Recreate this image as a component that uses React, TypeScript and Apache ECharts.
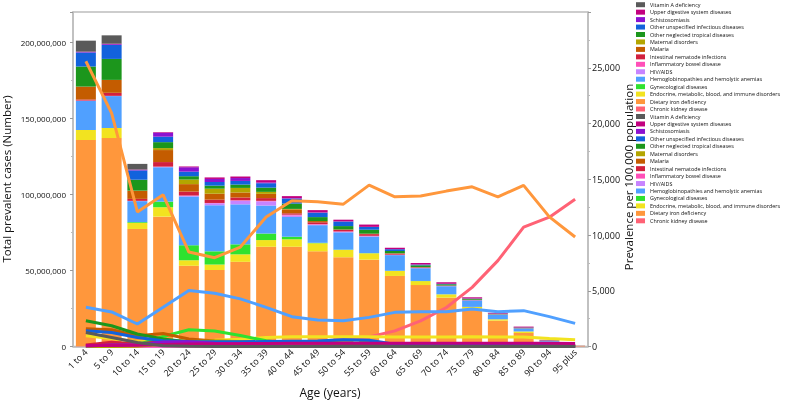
import React, { useEffect, useRef } from "react";
import * as echarts from "echarts";

const ageGroups = ["1 to 4", "5 to 9", "10 to 14", "15 to 19", "20 to 24", "25 to 29", "30 to 34", "35 to 39", "40 to 44", "45 to 49", "50 to 54", "55 to 59", "60 to 64", "65 to 69", "70 to 74", "75 to 79", "80 to 84", "85 to 89", "90 to 94", "95 plus"];

// Stack order, bottom to top
const causes = [
  "Chronic kidney disease",
  "Dietary iron deficiency",
  "Endocrine, metabolic, blood, and immune disorders",
  "Gynecological diseases",
  "Hemoglobinopathies and hemolytic anemias",
  "HIV/AIDS",
  "Inflammatory bowel disease",
  "Intestinal nematode infections",
  "Malaria",
  "Maternal disorders",
  "Other neglected tropical diseases",
  "Other unspecified infectious diseases",
  "Schistosomiasis",
  "Upper digestive system diseases",
  "Vitamin A deficiency",
];

const causeColors = ["#ff6275", "#ff973c", "#f2e320", "#2fe22f", "#50a0ff", "#c784ff", "#ff4fb8", "#d2203e", "#c45c00", "#b3a500", "#1c961c", "#1262dc", "#8c12d0", "#c2007f", "#5a5a5a"];

// Total prevalent cases (millions), per cause, per age group
const casesCKD = [0.2, 0.2, 0.2, 0.3, 0.4, 0.5, 0.6, 0.8, 1.0, 1.2, 1.4, 1.6, 1.8, 1.9, 1.8, 1.6, 1.3, 0.8, 0.4, 0.15];
const casesIron = [135.6, 136.9, 77.1, 85.1, 52.7, 49.8, 55.1, 64.8, 64.6, 61.4, 57.3, 55.5, 44.6, 38.5, 30.3, 23.2, 15.7, 8.1, 2.4, 0.35];
const casesEndocrine = [6.6, 6.6, 4.0, 6.2, 3.6, 3.6, 4.9, 4.4, 4.9, 5.3, 4.8, 4.2, 3.3, 2.6, 2.2, 1.2, 0.9, 1.0, 0.3, 0.05];
const casesGyn = [0, 0, 0.5, 3.7, 9.9, 8.7, 6.6, 4.3, 1.7, 0.3, 0.2, 0.1, 0.1, 0.1, 0.05, 0.05, 0, 0, 0, 0];
const casesHemo = [19.1, 21.0, 13.8, 22.6, 32.0, 30.3, 26.3, 18.4, 13.0, 11.6, 11.4, 10.9, 10.3, 8.4, 5.3, 4.3, 3.1, 2.0, 0.6, 0.1];
const casesHIV = [0.2, 0.1, 0.1, 0.3, 0.5, 1.3, 2.4, 2.8, 1.0, 0.4, 0.3, 0.2, 0.1, 0.05, 0.03, 0.02, 0.01, 0, 0, 0];
const casesIBD = [0.05, 0.05, 0.1, 0.1, 0.2, 0.2, 0.3, 0.3, 0.5, 0.3, 0.3, 0.3, 0.2, 0.2, 0.15, 0.1, 0.08, 0.05, 0.02, 0];
const casesNematode = [0.7, 2.0, 1.3, 3.0, 2.6, 2.2, 1.8, 1.8, 0.9, 1.2, 1.0, 1.1, 0.7, 0.3, 0.2, 0.2, 0.1, 0.1, 0.03, 0];
const casesMalaria = [8.5, 8.5, 5.3, 7.9, 4.9, 3.9, 3.3, 2.8, 2.6, 0.8, 0.3, 0.3, 0.2, 0.15, 0.1, 0.08, 0.05, 0.03, 0.01, 0];
const casesMaternal = [0, 0, 0.1, 1.3, 3.0, 3.3, 3.0, 1.3, 0.3, 0, 0, 0, 0, 0, 0, 0, 0, 0, 0, 0];
const casesNTD = [13.2, 13.8, 7.2, 3.9, 2.2, 2.0, 2.2, 2.8, 3.5, 2.6, 2.2, 2.6, 1.5, 1.2, 0.8, 0.6, 0.3, 0.3, 0.2, 0.02];
const casesOtherInf = [9.2, 9.2, 6.1, 3.6, 3.0, 2.4, 2.4, 2.9, 3.3, 2.9, 3.0, 1.8, 1.2, 0.5, 0.3, 0.2, 0.1, 0.1, 0.05, 0.01];
const casesSchisto = [0.3, 0.5, 0.4, 2.6, 2.9, 2.0, 1.9, 0.5, 0.3, 0.2, 0.1, 0.1, 0.05, 0.03, 0.02, 0.01, 0.01, 0, 0, 0];
const casesUpperDig = [0.3, 0.3, 0.2, 0.4, 0.5, 1.0, 1.0, 1.5, 1.3, 1.5, 1.1, 1.5, 0.9, 1.0, 1.0, 0.8, 0.5, 0.6, 0.4, 0.05];
const casesVitA = [7.2, 5.5, 3.7, 0, 0, 0, 0, 0, 0, 0, 0, 0, 0, 0, 0, 0, 0, 0, 0, 0];

// Prevalence per 100,000 population
const rateCKD = [50, 50, 60, 80, 100, 130, 170, 220, 300, 450, 650, 850, 1400, 2300, 3500, 5300, 7700, 10700, 11600, 13200];
const rateIron = [25586, 20937, 12072, 13600, 8468, 7964, 8919, 11622, 13063, 12973, 12766, 14477, 13423, 13500, 13937, 14324, 13423, 14450, 11622, 9820];
const rateEndocrine = [960, 720, 420, 500, 520, 560, 650, 800, 880, 880, 880, 880, 860, 860, 860, 880, 860, 850, 720, 600];
const rateGyn = [0, 0, 150, 900, 1500, 1387, 990, 514, 250, 120, 80, 60, 50, 40, 30, 20, 15, 10, 5, 5];
const rateHemo = [3513, 3100, 2018, 3514, 5018, 4775, 4270, 3514, 2676, 2378, 2315, 2613, 3063, 3126, 3126, 3369, 3126, 3216, 2676, 2072];
const rateHIV = [30, 20, 20, 50, 150, 250, 350, 400, 250, 100, 80, 50, 30, 20, 10, 5, 5, 5, 5, 5];
const rateIBD = [5, 10, 15, 20, 30, 40, 50, 60, 70, 80, 80, 80, 80, 80, 80, 80, 80, 70, 60, 50];
const rateNematode = [130, 380, 220, 450, 380, 330, 260, 260, 150, 200, 180, 150, 120, 100, 90, 80, 70, 60, 50, 40];
const rateMalaria = [1600, 1500, 964, 1171, 667, 500, 420, 350, 320, 300, 280, 250, 200, 180, 160, 150, 140, 120, 100, 80];
const rateMaternal = [0, 0, 20, 200, 450, 500, 450, 200, 50, 0, 0, 0, 0, 0, 0, 0, 0, 0, 0, 0];
const rateNTD = [2315, 1865, 1117, 667, 400, 300, 300, 350, 400, 380, 300, 320, 180, 150, 100, 80, 60, 50, 30, 20];
const rateOtherInf = [1414, 1261, 811, 514, 450, 420, 420, 450, 480, 500, 600, 560, 200, 150, 120, 100, 90, 80, 60, 50];
const rateSchisto = [50, 130, 150, 400, 420, 300, 250, 80, 50, 40, 30, 20, 15, 10, 8, 5, 5, 5, 5, 5];
const rateUpperDig = [80, 100, 120, 180, 220, 250, 260, 280, 300, 300, 300, 300, 300, 300, 300, 300, 300, 300, 300, 280];
const rateVitA = [1261, 811, 360, 60, 20, 10, 5, 0, 0, 0, 0, 0, 0, 0, 0, 0, 0, 0, 0, 0];

const casesByCause = [casesCKD, casesIron, casesEndocrine, casesGyn, casesHemo, casesHIV, casesIBD, casesNematode, casesMalaria, casesMaternal, casesNTD, casesOtherInf, casesSchisto, casesUpperDig, casesVitA];
const ratesByCause = [rateCKD, rateIron, rateEndocrine, rateGyn, rateHemo, rateHIV, rateIBD, rateNematode, rateMalaria, rateMaternal, rateNTD, rateOtherInf, rateSchisto, rateUpperDig, rateVitA];

const FONT = "Open Sans";

export default function App() {
  const ref = useRef<HTMLDivElement>(null);
  useEffect(() => {
    if (!ref.current) return;
    const chart = echarts.init(ref.current, null, { renderer: "svg" });
    const fmt = (v: number) => Math.round(v).toLocaleString("en-US");
    const barSeries = causes.map((name, i) => ({
      name,
      type: "bar",
      stack: "cases",
      yAxisIndex: 0,
      barWidth: 20,
      itemStyle: { color: causeColors[i] },
      data: casesByCause[i].map((v) => v * 1e6),
    }));
    const lineSeries = causes.map((name, i) => ({
      name,
      type: "line",
      yAxisIndex: 1,
      showSymbol: false,
      symbol: "none",
      lineStyle: { width: 3, color: causeColors[i] },
      itemStyle: { color: causeColors[i] },
      data: ratesByCause[i],
      z: 3,
    }));
    const legendNames = causes.slice().reverse();
    const legendBase = {
      orient: "vertical",
      left: 636,
      itemWidth: 9,
      itemHeight: 5,
      itemGap: 1.45,
      icon: "rect",
      selectedMode: false,
      padding: 0,
      textStyle: { fontSize: 5.4, lineHeight: 6, color: "#111", fontFamily: FONT },
      data: legendNames,
    };
    chart.setOption({
      animation: false,
      textStyle: { fontFamily: FONT },
      grid: { left: 73, right: 199, top: 12, bottom: 54.5, show: true, borderColor: "#bdbdbd", borderWidth: 1.5 },
      legend: [
        { ...legendBase, top: 1.7 },
        { ...legendBase, top: 113.5 },
      ],
      xAxis: {
        type: "category",
        data: ageGroups,
        axisLine: { lineStyle: { color: "#bdbdbd", width: 1.5 } },
        axisTick: { show: false },
        axisLabel: { rotate: 45, interval: 0, fontSize: 9, color: "#111", margin: 4, fontFamily: FONT },
      },
      yAxis: [
        {
          type: "value",
          min: 0,
          max: 220000000,
          interval: 50000000,
          splitLine: { show: false },
          axisLine: { show: true, lineStyle: { color: "#bdbdbd", width: 1.5 } },
          axisTick: { show: true, length: 3, lineStyle: { color: "#999" } },
          minorTick: { show: true, splitNumber: 2, length: 2, lineStyle: { color: "#bbb" } },
          axisLabel: { fontSize: 8, color: "#111", margin: 7, showMaxLabel: false, formatter: fmt, fontFamily: FONT },
        },
        {
          type: "value",
          position: "right",
          min: 0,
          max: 30000,
          interval: 5000,
          splitLine: { show: false },
          axisLine: { show: true, lineStyle: { color: "#bdbdbd", width: 1.5 } },
          axisTick: { show: true, length: 3, lineStyle: { color: "#999" } },
          minorTick: { show: true, splitNumber: 2, length: 2, lineStyle: { color: "#bbb" } },
          axisLabel: { fontSize: 9, color: "#111", margin: 4, showMaxLabel: false, formatter: fmt, fontFamily: FONT },
        },
      ],
      graphic: [
        {
          type: "text",
          x: 6,
          y: 179,
          rotation: Math.PI / 2,
          style: { text: "Total prevalent cases (Number)", fontSize: 11.5, fill: "#111", textAlign: "center", textVerticalAlign: "middle", fontFamily: FONT },
        },
        {
          type: "text",
          x: 628,
          y: 177,
          rotation: Math.PI / 2,
          style: { text: "Prevalence per 100,000 population", fontSize: 11.5, fill: "#111", textAlign: "center", textVerticalAlign: "middle", fontFamily: FONT },
        },
        {
          type: "text",
          x: 330,
          y: 392,
          style: { text: "Age (years)", fontSize: 12, fill: "#111", textAlign: "center", textVerticalAlign: "middle", fontFamily: FONT },
        },
      ],
      series: [...barSeries, ...lineSeries],
    });
    return () => chart.dispose();
  }, []);
  return <div ref={ref} style={{ position: "fixed", left: 0, top: 0, width: 787, height: 401 }} />;
}
